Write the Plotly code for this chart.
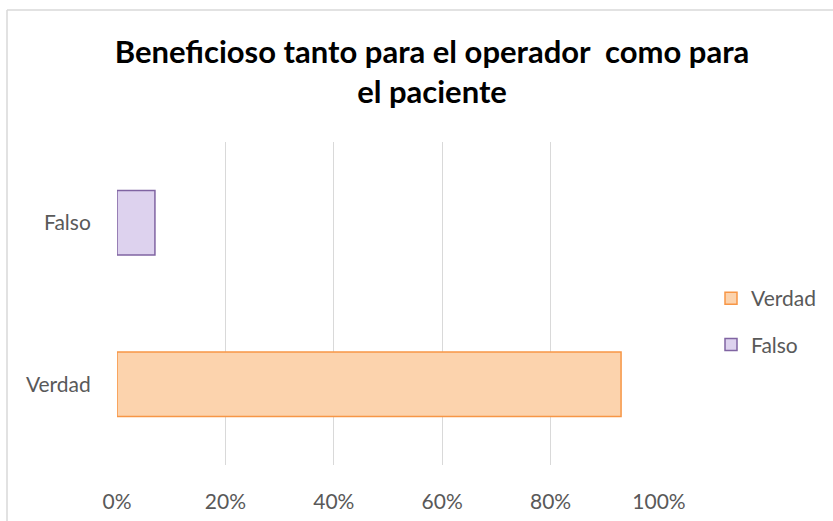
import plotly.graph_objects as go

categories = ["Verdad", "Falso"]
series_names = ["Verdad", "Falso"]
verdad_values = [0.93, None]
falso_values = [None, 0.07]
x_ticks = [0, 0.2, 0.4, 0.6, 0.8, 1.0]
x_tick_labels = ["0%", "20%", "40%", "60%", "80%", "100%"]
title_text = "Beneficioso tanto para el operador  como para<br>el paciente"

W, H = 833, 521
L, R, T, B = 117, 833 - 659, 142, 521 - 465
pw, ph = W - L - R, H - T - B

fig = go.Figure()
fig.add_trace(go.Bar(
    y=categories, x=verdad_values, orientation="h", name=series_names[0],
    legendgroup="v", width=0.4,
    marker=dict(color="#fcd3ad", line=dict(color="#f79646", width=1.5)),
))
fig.add_trace(go.Bar(
    y=categories, x=falso_values, orientation="h", name=series_names[1],
    legendgroup="f", width=0.4,
    marker=dict(color="#ddd2ee", line=dict(color="#8064a2", width=1.5)),
))

font_fam = "Lato, 'Open Sans', sans-serif"
fig.update_layout(
    width=W, height=H,
    margin=dict(l=L, r=R, t=T, b=B, pad=0, autoexpand=False),
    paper_bgcolor="white", plot_bgcolor="white",
    barmode="overlay",
    font=dict(family=font_fam, color="#595959", size=22),
    title=dict(text=title_text, x=432 / W, xanchor="center", xref="container",
               y=1 - 63 / H, yanchor="middle", yref="container",
               font=dict(family=font_fam, size=31, color="black", weight="bold")),
    xaxis=dict(range=[0, 1], tickvals=x_ticks, ticktext=x_tick_labels,
               showgrid=True, gridcolor="#d9d9d9", gridwidth=1.3,
               zeroline=False, showline=False, automargin=False,
               ticks="outside", ticklen=18, tickcolor="rgba(0,0,0,0)",
               tickfont=dict(size=21, color="#595959")),
    yaxis=dict(categoryorder="array", categoryarray=categories,
               range=[-0.5, 1.5], showgrid=False, zeroline=False, showline=False,
               automargin=False,
               ticks="outside", ticklen=21, tickcolor="rgba(0,0,0,0)",
               tickfont=dict(size=21, color="#595959")),
    legend=dict(x=(711 - L) / pw, y=1 - (278 - T) / ph, xanchor="left", yanchor="top",
                font=dict(size=21, color="#595959"), traceorder="grouped",
                itemwidth=30, tracegroupgap=16, bgcolor="rgba(0,0,0,0)"),
    showlegend=True,
)
# chart-area border (left and top edges visible in the reference crop)
fig.add_shape(type="line", xref="paper", yref="paper",
              x0=(7 - L) / pw, x1=(7 - L) / pw, y0=-(B + 5) / ph, y1=1 + (T - 10) / ph,
              line=dict(color="#d9d9d9", width=1.5))
fig.add_shape(type="line", xref="paper", yref="paper",
              x0=(7 - L) / pw, x1=(W + 5 - L) / pw, y0=1 + (T - 10) / ph, y1=1 + (T - 10) / ph,
              line=dict(color="#d9d9d9", width=1.5))

fig.write_html("out.html", config={"displayModeBar": False},
               post_script="document.body.style.margin='0';document.body.style.overflow='hidden';")
